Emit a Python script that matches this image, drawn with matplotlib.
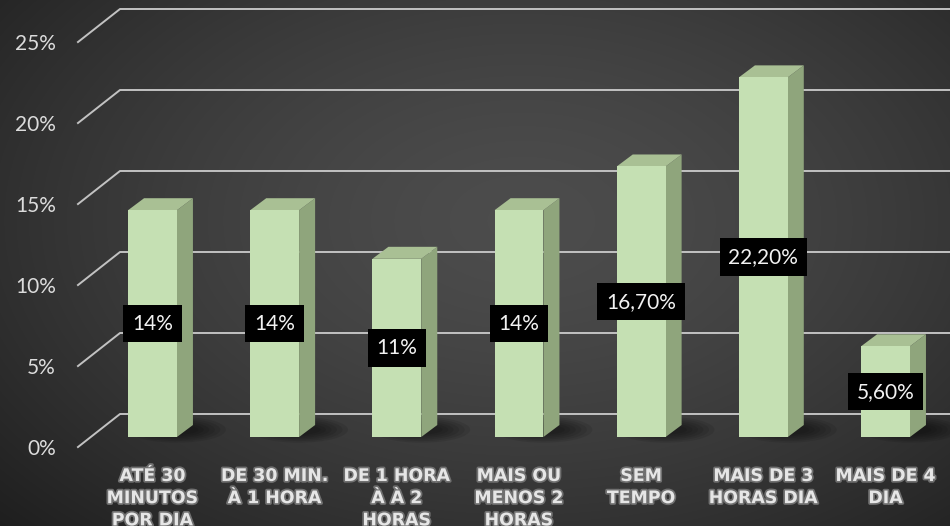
import matplotlib.pyplot as plt
import matplotlib.patheffects as pe
from matplotlib.patches import Polygon, Rectangle, Ellipse
import numpy as np

categories = ["ATÉ 30\nMINUTOS\nPOR DIA", "DE 30 MIN.\nÀ 1 HORA", "DE 1 HORA\nÀ À 2\nHORAS",
              "MAIS OU\nMENOS 2\nHORAS", "SEM\nTEMPO", "MAIS DE 3\nHORAS DIA", "MAIS DE 4\nDIA"]
values = [14, 14, 11, 14, 16.7, 22.2, 5.6]
value_labels = ["14%", "14%", "11%", "14%", "16,70%", "22,20%", "5,60%"]
yticks = [0, 5, 10, 15, 20, 25]
ytick_labels = ["0%", "5%", "10%", "15%", "20%", "25%"]

# layout (pixel scale of the reference)
W, H = 950, 526
PX_X = 122.17   # px per category
PX_Y = 16.2     # px per percent
X0, Y0 = 152.5, 437  # first bar centre / floor front in px

fig = plt.figure(figsize=(W / 100, H / 100), dpi=100)
ax = fig.add_axes([0, 0, 1, 1])
xl = (-X0 / PX_X, (W - X0) / PX_X)
yl = (-(H - Y0) / PX_Y, Y0 / PX_Y)
ax.set_xlim(*xl)
ax.set_ylim(*yl)
ax.axis("off")

# background radial gradient
gx, gy = np.meshgrid(np.linspace(0, 1, W), np.linspace(0, 1, H))
d = np.sqrt(((gx - 0.55) / 0.75) ** 2 + ((gy - 0.42) / 0.85) ** 2)
shade = np.clip(0.30 - 0.18 * d ** 1.5, 0.09, 0.32)
bg = np.dstack([shade, shade, shade])
ax.imshow(bg, extent=[xl[0], xl[1], yl[0], yl[1]], aspect="auto", zorder=0)

# gridlines: front-left diagonal then back wall
fx, bx = -0.61, -0.266
fdy, bdy = -0.62, 1.42
for v in yticks:
    ax.plot([fx, bx, xl[1]], [v + fdy, v + bdy, v + bdy], color="#c2c2c2", lw=1.4, zorder=1)

for v, lab in zip(yticks, ytick_labels):
    ax.text(-0.79, v + fdy - 0.15, lab, ha="right", va="center", color="#dcdcdc",
            fontsize=15, family="Lato", zorder=5)

w, dx, dy = 0.40, 0.131, 0.74
front, side, top = "#c5e0b3", "#8fa57c", "#a9c094"
for i, v in enumerate(values):
    # soft shadow behind the base
    for k in range(6):
        ax.add_patch(Ellipse((i + 0.2, 0.45), 0.8 - k * 0.09, 1.6 - k * 0.2,
                             color="black", alpha=0.09, lw=0, zorder=1.5))
    ax.add_patch(Rectangle((i - w / 2, 0), w, v, color=front, lw=0, zorder=3))
    ax.add_patch(Polygon([(i + w / 2, 0), (i + w / 2 + dx, dy), (i + w / 2 + dx, v + dy),
                          (i + w / 2, v)], closed=True, color=side, lw=0, zorder=2))
    ax.add_patch(Polygon([(i - w / 2, v), (i - w / 2 + dx, v + dy), (i + w / 2 + dx, v + dy),
                          (i + w / 2, v)], closed=True, color=top, lw=0, zorder=2))

for i, (v, lab) in enumerate(zip(values, value_labels)):
    ax.text(i, v / 2, lab, ha="center", va="center", color="#f2f2f2", fontsize=15,
            family="Lato", zorder=6,
            bbox=dict(boxstyle="square,pad=0.42", fc="black", ec="none"))

for i, cat in enumerate(categories):
    ax.text(i, -1.85, cat, ha="center", va="top", color="#e6e6e6", fontsize=12.5,
            fontweight="heavy", family="DejaVu Sans", linespacing=1.3, zorder=5,
            path_effects=[pe.withStroke(linewidth=2.5, foreground="#707070")])

fig.savefig("out.png", dpi=100)
